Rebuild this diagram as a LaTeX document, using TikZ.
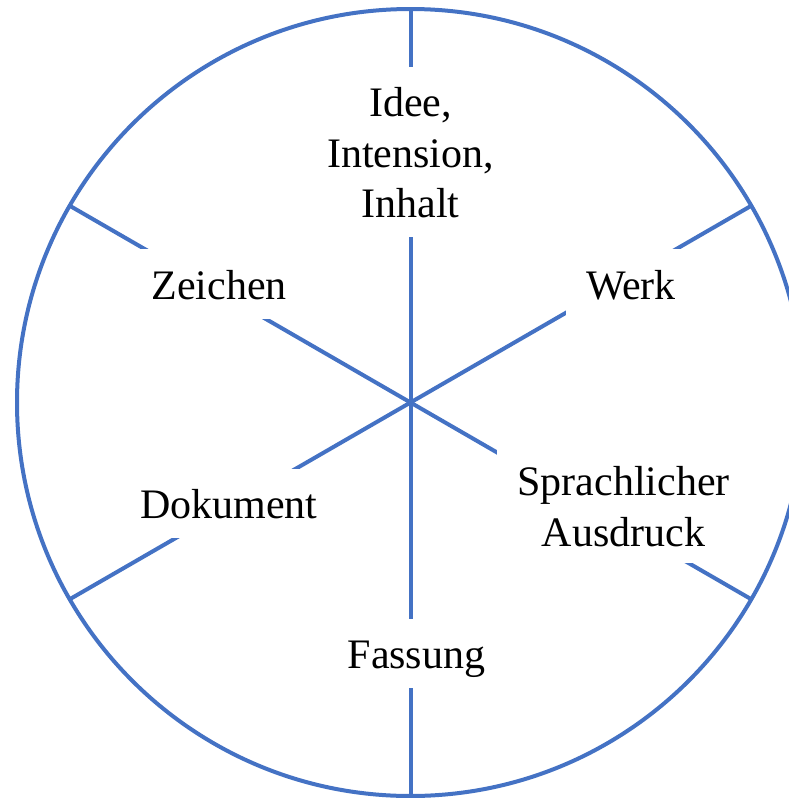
\documentclass[tikz,border=0pt]{standalone}
\usepackage{fontspec}
\setmainfont{Liberation Serif}
\usetikzlibrary{calc}
\definecolor{spoke}{HTML}{4472C4}
\newcommand{\topstrut}{\rule{0pt}{40pt}}
\newcommand{\botstrut}{\rule[-10pt]{0pt}{10pt}}
\begin{document}
\begin{tikzpicture}[x=1pt,y=-1pt,
  rim/.style={draw=spoke,line width=4pt},
  label/.style={fill=white,inner sep=0pt,inner xsep=20pt,align=center,
    font=\fontsize{42}{50.4}\selectfont,text=black}]
\useasboundingbox (0,0) rectangle (789,798);
\clip (0,0) rectangle (789,798);
\coordinate (c) at (410.5,402.5);
\draw[rim] (c) circle[radius=393.5];
\foreach \a/\n in {90/r1,30/r2,-30/r3,-90/r4,210/r5,150/r6}
  \coordinate (\n) at ($(c)+({393.5*cos(\a)},{-393.5*sin(\a)})$);
\foreach \n in {r1,r2,r3,r4,r5,r6}
  \draw[rim] (c) -- (\n);
\node[label,minimum height=170pt] (idee) at (410.5,152) {\topstrut Idee,\\Intension,\\Inhalt\botstrut};
\node[label,minimum height=70pt] (zeichen) at (219,284) {\topstrut Zeichen\botstrut};
\node[label,minimum height=70pt] (werk) at (631,284) {\topstrut Werk\botstrut};
\node[label,minimum height=69pt] (dokument) at (229,503.5) {\topstrut Dokument\botstrut};
\node[label,minimum height=113pt] (sprach) at (623.5,506) {\topstrut Sprachlicher\\Ausdruck\botstrut};
\node[label,minimum height=69pt] (fassung) at (416.5,653.5) {\topstrut Fassung\botstrut};
\end{tikzpicture}
\end{document}
